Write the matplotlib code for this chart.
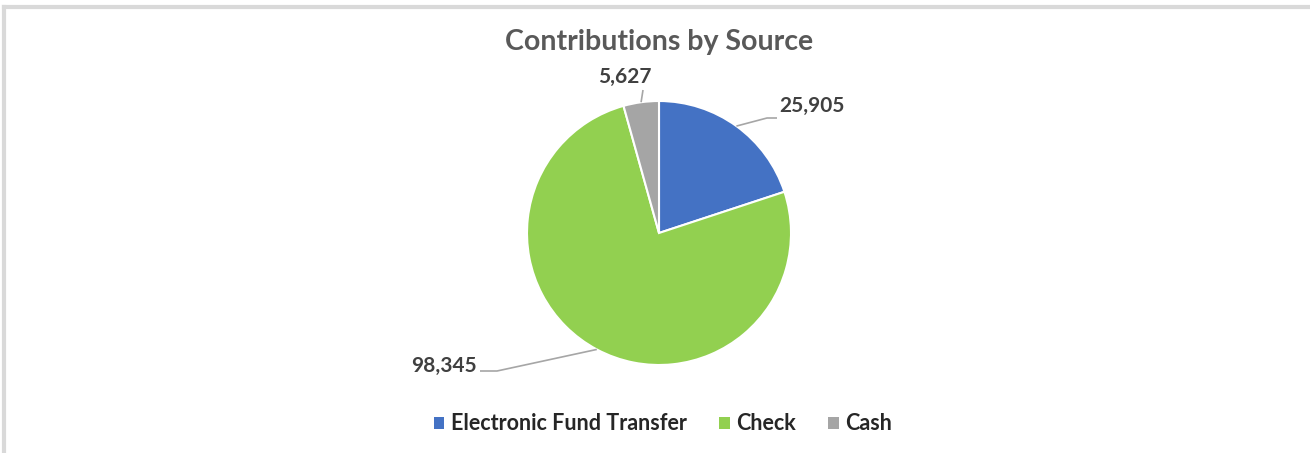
import numpy as np
import matplotlib
matplotlib.use("Agg")
import matplotlib.pyplot as plt
from matplotlib.lines import Line2D
from matplotlib.patches import Rectangle

categories = ["Electronic Fund Transfer", "Check", "Cash"]
values = [25905, 98345, 5627]
value_labels = ["25,905", "98,345", "5,627"]
colors = ["#4472C4", "#92D050", "#A5A5A5"]
title = "Contributions by Source"

W, H, DPI = 1310, 453, 100
fig = plt.figure(figsize=(W / DPI, H / DPI), dpi=DPI)
plt.rcParams['font.family'] = ['Lato', 'DejaVu Sans']

# pie geometry in pixels
cx, cy, R = 659, 233, 132
ax = fig.add_axes([0, 0, 1, 1])
wedges, _ = ax.pie(values, colors=colors, startangle=90, counterclock=False,
                   radius=1.0, wedgeprops=dict(edgecolor="white", linewidth=1.5))
ax.set_xlim(-cx / R, (W - cx) / R)
ax.set_ylim((cy - H) / R, cy / R)
ax.set_aspect('auto')
ax.axis('off')

def px(x, y):
    return ((x - cx) / R, (cy - y) / R)

# label placements (pixel space): text center, and leader path points
label_pos = [px(812, 106), px(444, 366), px(625, 77)]
leader_pts = [[px(767, 118), px(777, 118)],
              [px(497, 371), px(480, 371)],
              [px(643, 90)]]

for w, lab, pos, pts in zip(wedges, value_labels, label_pos, leader_pts):
    ang = np.deg2rad((w.theta1 + w.theta2) / 2)
    sx, sy = np.cos(ang), np.sin(ang)
    xs = [sx] + [p[0] for p in pts]
    ys = [sy] + [p[1] for p in pts]
    ax.plot(xs, ys, color="#A6A6A6", lw=1.2, solid_capstyle='butt')
    ax.text(pos[0], pos[1], lab, ha='center', va='center', fontsize=15,
            fontweight='bold', color="#404040")

fig.text(cx / W, 1 - 42 / H, title, ha='center', va='center', fontsize=20.5,
         fontweight='bold', color="#595959")

handles = [Rectangle((0, 0), 1, 1, facecolor=c, edgecolor='none') for c in colors]
leg = fig.legend(handles, categories, loc='center', bbox_to_anchor=(663 / W, 1 - 424 / H),
                 ncol=3, frameon=False, handlelength=0.5, handleheight=0.5,
                 handletextpad=0.3, columnspacing=1.5,
                 prop=dict(weight='bold', size=15.5))
for t in leg.get_texts():
    t.set_color("#262626")

# chart border (left and top visible)
fig.add_artist(Line2D([4 / W, 4 / W], [0, 1 - 7 / H], transform=fig.transFigure,
                      color="#D9D9D9", lw=3))
fig.add_artist(Line2D([4 / W, 1], [1 - 7 / H, 1 - 7 / H], transform=fig.transFigure,
                      color="#D9D9D9", lw=3))

fig.savefig("out.png", dpi=DPI)
